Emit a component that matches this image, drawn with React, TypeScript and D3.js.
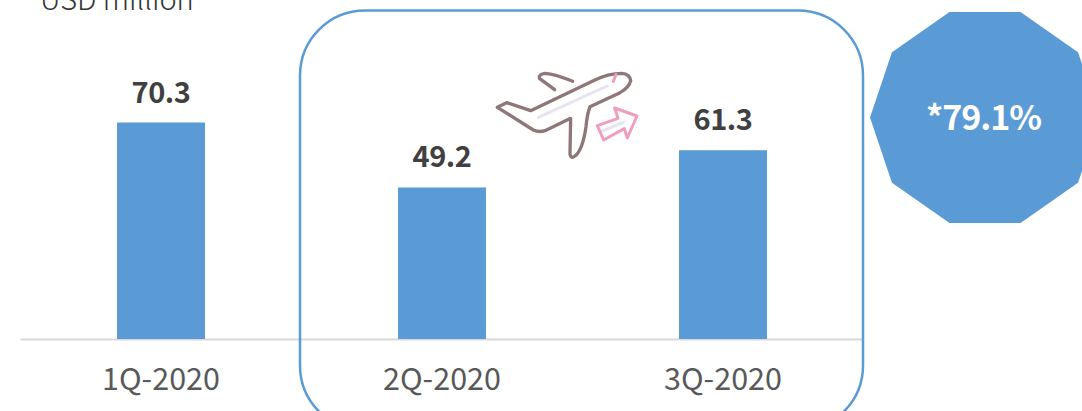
import React from 'react';
import * as d3 from 'd3';

const quarters = ['1Q-2020', '2Q-2020', '3Q-2020'];
const revenue = [70.3, 49.2, 61.3];
const unitLabel = 'USD million';
const growthLabel = '*79.1%';

const W = 1082;
const H = 411;
const BLUE = '#5b9bd5';
const FONT = '"Noto Sans CJK JP", "Noto Sans", sans-serif';

const x = d3.scaleBand().domain(quarters).range([20.5, 863.5]).paddingInner(0.687).paddingOuter(0.3435);
const y = d3.scaleLinear().domain([0, 70.3]).range([339, 122.5]);

// decagon badge, runs off the right edge
const badge = d3.range(10).map(i => {
  const a = Math.PI + (i * Math.PI) / 5;
  return [985 + 115 * Math.cos(a), 117.5 + 111 * Math.sin(a)] as [number, number];
});
const badgePath = d3.line().curve(d3.curveLinearClosed)(badge) as string;

const Plane = () => (
  <g transform="translate(480,50) scale(0.3333)" fill="none" strokeLinecap="round" strokeLinejoin="round">
    <path d="M175 202 L382 108 M362 245 L430 217" stroke="#e6e4f1" strokeWidth="9" />
    <path d="M224 119 L178 85 Q176 72 195 70 Q225 72 278 94" stroke="#8f7779" strokeWidth="10" />
    <path
      d="M52 172 L80 158 L152 182 L340 92 Q385 70 425 70 Q450 72 452 92 Q448 112 420 128 L330 170 Q322 190 318 230 Q308 300 285 318 Q272 328 270 312 L272 205 L195 242 Q178 248 160 240 Z"
      stroke="#8f7779"
      strokeWidth="10"
    />
    <path d="M400 94 L408 74" stroke="#ee9fc0" strokeWidth="9" />
    <path d="M352 227 L414 205 L404 174 L471 198 L442 264 L433 236 L371 270 Z" stroke="#ee9fc0" strokeWidth="9" />
  </g>
);

export default function App() {
  return (
    <svg
      width={W}
      height={H}
      viewBox={`0 0 ${W} ${H}`}
      style={{ position: 'absolute', left: 0, top: 0, display: 'block', background: '#fff' }}
      fontFamily={FONT}
    >
      <text x={40} y={10} fontSize={29} fontWeight={300} fill="#333">{unitLabel}</text>

      <line x1={20.5} x2={863.5} y1={339.5} y2={339.5} stroke="#d9d9d9" strokeWidth={2} />

      {quarters.map((q, i) => (
        <g key={q}>
          <rect x={x(q)} y={y(revenue[i])} width={x.bandwidth()} height={y(0) - y(revenue[i])} fill={BLUE} />
          <text
            x={(x(q) as number) + x.bandwidth() / 2}
            y={y(revenue[i]) - 20}
            textAnchor="middle"
            fontSize={29}
            fontWeight={700}
            letterSpacing={-0.5}
            fill="#404040"
          >
            {revenue[i].toFixed(1)}
          </text>
          <text
            x={(x(q) as number) + x.bandwidth() / 2}
            y={390}
            textAnchor="middle"
            fontSize={30.5}
            fill="#595959"
          >
            {q}
          </text>
        </g>
      ))}

      <rect x={300} y={10.5} width={563} height={420} rx={65} ry={65} fill="none" stroke={BLUE} strokeWidth={2.5} />

      <Plane />

      <path d={badgePath} fill={BLUE} />
      <text x={983.5} y={130} textAnchor="middle" fontSize={34} fontWeight={700} letterSpacing={-1} fill="#fff">{growthLabel}</text>
    </svg>
  );
}
